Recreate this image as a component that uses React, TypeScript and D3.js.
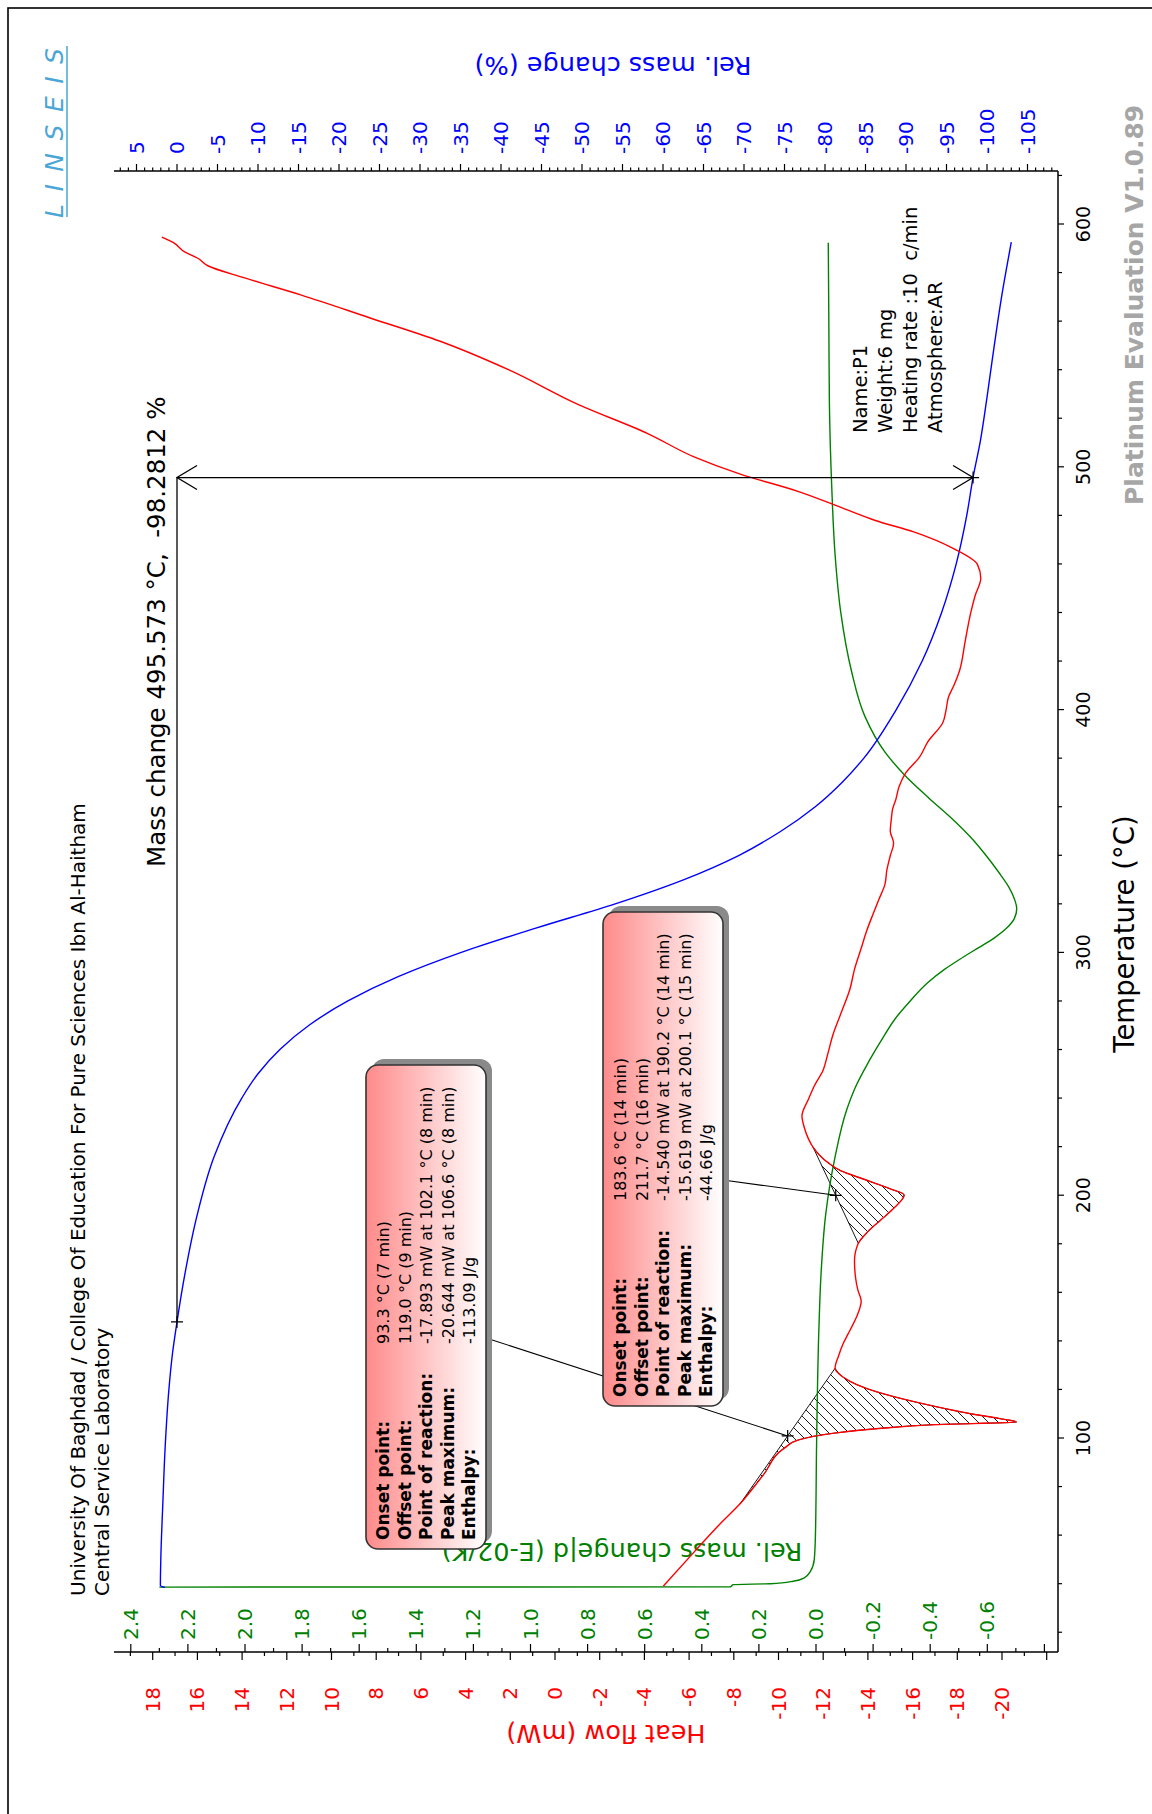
import React, { useEffect, useRef } from "react";
import * as d3 from "d3";

const WIDTH = 1152;
const HEIGHT = 1814;
const FONT = "'DejaVu Sans', Verdana, sans-serif";

// Axis tick labels
const tempTicks = [100, 200, 300, 400, 500, 600];
const heatFlowTicks = [18, 16, 14, 12, 10, 8, 6, 4, 2, 0, -2, -4, -6, -8, -10, -12, -14, -16, -18, -20];
const dtgTicks = [2.4, 2.2, 2.0, 1.8, 1.6, 1.4, 1.2, 1.0, 0.8, 0.6, 0.4, 0.2, 0.0, -0.2, -0.4, -0.6];
const massTicks = [5, 0, -5, -10, -15, -20, -25, -30, -35, -40, -45, -50, -55, -60, -65, -70, -75, -80, -85, -90, -95, -100, -105];

// DTA heat flow (mW) versus temperature (°C)
const dtaTemp = [39.0, 53.0, 64.4, 73.0, 84.9, 95.8, 99.2, 102.0, 104.0, 105.5, 106.6, 108.0, 110.0, 113.0, 116.0, 119.0, 122.0, 125.0, 128.7, 133.9, 139.0, 144.4, 150.0, 156.4, 161.0, 165.9, 173.0, 180.2, 185.0, 190.0, 195.0, 200.1, 202.6, 205.0, 207.3, 210.0, 213.5, 219.7, 223.0, 228.0, 232.6, 239.7, 245.0, 251.6, 258.0, 265.9, 275.0, 285.0, 293.0, 301.7, 309.0, 316.0, 322.0, 327.9, 334.0, 339.8, 345.0, 350.0, 355.0, 358.8, 363.0, 368.4, 374.0, 380.3, 387.0, 394.6, 400.0, 405.0, 410.0, 416.0, 428.0, 439.8, 447.0, 454.1, 459.8, 466.0, 473.2, 478.0, 482.7, 489.8, 497.0, 504.1, 513.7, 525.6, 539.9, 551.8, 561.3, 570.8, 578.0, 582.7, 586.0, 588.4, 592.3, 594.6];
const dtaHeatFlow = [-4.85, -6.22, -7.36, -8.29, -9.33, -10.26, -10.9, -12.5, -14.6, -17.0, -20.644, -19.9, -18.6, -17.0, -15.6, -14.4, -13.5, -12.9, -12.53, -12.69, -12.9, -13.2, -13.5, -13.7, -13.55, -13.45, -13.4, -13.57, -14.0, -14.6, -15.2, -15.619, -15.0, -14.3, -13.6, -12.8, -12.2, -11.55, -11.35, -11.15, -11.05, -11.35, -11.6, -12.0, -12.2, -12.43, -12.8, -13.2, -13.4, -13.7, -13.95, -14.24, -14.5, -14.76, -14.85, -15.0, -15.15, -15.0, -15.05, -15.1, -15.25, -15.4, -15.7, -16.3, -16.7, -17.35, -17.5, -17.6, -17.85, -18.1, -18.35, -18.6, -18.8, -19.05, -18.9, -17.9, -16.05, -14.3, -12.95, -10.9, -8.29, -6.22, -4.15, -1.05, 2.06, 5.17, 8.27, 11.38, 13.96, 15.51, 16.0, 16.55, 17.07, 17.59];

// TG relative mass change (%) versus temperature (°C)
const tgTemp = [38.5, 39.3, 50, 73, 97, 120, 135, 147.8, 168, 192, 216, 240, 250, 260, 270, 280, 290, 300, 310, 320, 330, 340, 350, 360, 370, 380, 400, 420, 440, 460, 480, 495.6, 511, 531, 550, 570, 592.5];
const tgMass = [1.5, 2.05, 2.0, 1.75, 1.45, 1.0, 0.55, 0.0, -1.0, -2.5, -4.6, -8.0, -10.0, -12.7, -16.3, -21.1, -27.3, -35.1, -44.3, -54.1, -62.6, -69.4, -74.6, -78.8, -82.1, -84.8, -88.8, -92.0, -94.4, -96.2, -97.5, -98.28, -99.2, -100.1, -100.9, -101.8, -103.0];

// DTG (E-02/K) versus temperature (°C)
const dtgTemp = [38.6, 38.7, 39.6, 40.0, 41.0, 42.5, 45.0, 50.0, 60.0, 96.8, 144.4, 168.3, 192.1, 215.9, 235.0, 245.0, 254.0, 263.0, 273.1, 280.0, 287.4, 293.0, 298.0, 302.0, 306.0, 310.0, 314.0, 318.0, 322.0, 327.0, 333.0, 340.0, 347.0, 354.1, 363.6, 373.1, 382.6, 397.0, 416.0, 439.8, 463.6, 492.2, 525.6, 558.9, 592.3];
const dtgValue = [2.3, 0.3, 0.29, 0.16, 0.08, 0.04, 0.02, 0.006, 0.002, -0.002, -0.01, -0.018, -0.034, -0.067, -0.107, -0.14, -0.18, -0.225, -0.28, -0.33, -0.39, -0.45, -0.515, -0.57, -0.625, -0.668, -0.695, -0.703, -0.695, -0.675, -0.64, -0.595, -0.545, -0.485, -0.395, -0.31, -0.241, -0.172, -0.124, -0.087, -0.067, -0.055, -0.047, -0.045, -0.043];

// Peak integration limits (°C)
const peakStartTemp = [73.0, 180.2];
const peakEndTemp = [128.7, 219.7];

// Peak evaluation results
const evalLabels = ["Onset point:", "Offset point:", "Point of reaction:", "Peak maximum:", "Enthalpy:"];
const peak1Values = ["93.3 °C (7 min)", "119.0 °C (9 min)", "-17.893 mW at 102.1 °C (8 min)", "-20.644 mW at 106.6 °C (8 min)", "-113.09 J/g"];
const peak2Values = ["183.6 °C (14 min)", "211.7 °C (16 min)", "-14.540 mW at 190.2 °C (14 min)", "-15.619 mW at 200.1 °C (15 min)", "-44.66 J/g"];

// Mass step evaluation
const massStepFromTemp = 147.8;
const massStepTemp = 495.573;
const massStepValue = -98.2812;

const sampleInfo = ["Name:P1", "Weight:6 mg", "Heating rate :10  c/min", "Atmosphere:AR"];
const titleLines = ["University Of Baghdad / College Of Education For Pure Sciences Ibn Al-Haitham", "Central Service Laboratory"];

export default function App() {
  const ref = useRef<SVGSVGElement | null>(null);

  useEffect(() => {
    const svg = d3.select(ref.current as SVGSVGElement);
    svg.selectAll("*").remove();

    const defs = svg.append("defs");
    const pat = defs
      .append("pattern")
      .attr("id", "hatch")
      .attr("patternUnits", "userSpaceOnUse")
      .attr("width", 10)
      .attr("height", 10);
    pat
      .append("path")
      .attr("d", "M0,10 L10,0 M-2,2 L2,-2 M8,12 L12,8")
      .attr("stroke", "#000")
      .attr("stroke-width", 0.9);
    const grad = defs
      .append("linearGradient")
      .attr("id", "boxFill")
      .attr("x1", 0)
      .attr("y1", 0)
      .attr("x2", 0)
      .attr("y2", 1);
    grad.append("stop").attr("offset", "0%").attr("stop-color", "#ff8a8a");
    grad.append("stop").attr("offset", "100%").attr("stop-color", "#ffffff");

    svg.append("rect").attr("width", WIDTH).attr("height", HEIGHT).attr("fill", "#fff");
    svg
      .append("rect")
      .attr("x", 8)
      .attr("y", 8)
      .attr("width", WIDTH + 40)
      .attr("height", HEIGHT + 40)
      .attr("fill", "none")
      .attr("stroke", "#000")
      .attr("stroke-width", 1.6);

    // Chart is laid out in its own frame (temperature along u, values along v) and turned a quarter turn.
    const g = svg.append("g").attr("transform", `translate(0,${HEIGHT}) rotate(-90)`);

    const tScale = d3.scaleLinear().domain([100, 600]).range([376, 1590]);
    const hfScale = d3.scaleLinear().domain([18, -20]).range([152.7, 1002]);
    const dtgScale = d3.scaleLinear().domain([2.4, -0.6]).range([130.8, 987.3]);
    const massScale = d3.scaleLinear().domain([0, -100]).range([177, 987]);
    const U_AX = 162;
    const U_TOP = 1643;
    const V_L = 114;
    const V_R = 1058;

    const axes = g.append("g").attr("stroke", "#000").attr("stroke-width", 1.5);
    axes.append("line").attr("x1", U_AX).attr("x2", U_TOP).attr("y1", V_R).attr("y2", V_R);
    axes.append("line").attr("x1", U_AX).attr("x2", U_AX).attr("y1", V_L).attr("y2", V_R);
    axes.append("line").attr("x1", U_TOP).attr("x2", U_TOP).attr("y1", V_L).attr("y2", V_R);

    const tick = g.append("g").attr("stroke", "#000").attr("stroke-width", 1.2);
    // temperature ticks
    d3.range(20, 621, 20).forEach((t) => {
      const u = tScale(t);
      if (u < U_AX || u > U_TOP) return;
      const len = t % 100 === 0 ? 6 : 4;
      tick.append("line").attr("x1", u).attr("x2", u).attr("y1", V_R).attr("y2", V_R + len);
    });
    // heat flow ticks (outside)
    d3.range(19, -23, -1).forEach((h) => {
      const v = hfScale(h);
      if (v < V_L || v > V_R) return;
      const len = h % 2 === 0 ? 8 : 4;
      tick.append("line").attr("x1", U_AX).attr("x2", U_AX - len).attr("y1", v).attr("y2", v);
    });
    // DTG ticks (inside)
    d3.range(25, -9, -1).forEach((i) => {
      const v = dtgScale(i / 10);
      if (v < V_L || v > V_R) return;
      const len = i % 2 === 0 ? 8 : 4;
      tick.append("line").attr("x1", U_AX).attr("x2", U_AX + len).attr("y1", v).attr("y2", v);
    });
    // mass ticks
    d3.range(7, -110, -1).forEach((m) => {
      const v = massScale(m);
      if (v < V_L || v > V_R) return;
      const len = m % 5 === 0 ? 7 : 3.5;
      tick.append("line").attr("x1", U_TOP).attr("x2", U_TOP + len).attr("y1", v).attr("y2", v);
    });

    const labels = g.append("g").attr("font-family", FONT).attr("font-size", 20);
    heatFlowTicks.forEach((h) => {
      labels
        .append("text")
        .attr("x", 127)
        .attr("y", hfScale(h))
        .attr("dy", "0.35em")
        .attr("text-anchor", "end")
        .attr("fill", "#ff0000")
        .text(String(h));
    });
    dtgTicks.forEach((d) => {
      labels
        .append("text")
        .attr("x", 174)
        .attr("y", dtgScale(d))
        .attr("dy", "0.35em")
        .attr("text-anchor", "start")
        .attr("fill", "#008000")
        .text(d.toFixed(1));
    });
    massTicks.forEach((m) => {
      labels
        .append("text")
        .attr("x", 1660)
        .attr("y", massScale(m))
        .attr("dy", "0.35em")
        .attr("text-anchor", "start")
        .attr("fill", "#0000ff")
        .text(String(m));
    });
    tempTicks.forEach((t) => {
      labels
        .append("text")
        .attr("x", tScale(t))
        .attr("y", 1090)
        .attr("text-anchor", "middle")
        .attr("font-size", 19)
        .attr("fill", "#000")
        .text(String(t));
    });

    // Axis titles
    const titles = g.append("g").attr("font-family", FONT).attr("font-size", 25.5);
    titles
      .append("text")
      .attr("transform", `translate(89,606) rotate(-90)`)
      .attr("text-anchor", "middle")
      .attr("fill", "#ff0000")
      .text("Heat flow (mW)");
    titles
      .append("text")
      .attr("transform", `translate(1757,613) rotate(-90)`)
      .attr("text-anchor", "middle")
      .attr("fill", "#0000ff")
      .text("Rel. mass change (%)");
    titles
      .append("text")
      .attr("transform", `translate(271,622) rotate(-90)`)
      .attr("text-anchor", "middle")
      .attr("fill", "#008000")
      .text("Rel. mass change|d (E-02/K)");
    titles
      .append("text")
      .attr("x", 880)
      .attr("y", 1134)
      .attr("text-anchor", "middle")
      .attr("font-size", 27.5)
      .attr("fill", "#000")
      .text("Temperature (°C)");

    // Curves
    const zip = (a: number[], b: number[]) => a.map((x, i) => [x, b[i]] as [number, number]);
    const dta = zip(dtaTemp, dtaHeatFlow);
    const tg = zip(tgTemp, tgMass);
    const dtg = zip(dtgTemp, dtgValue);

    const dtaLine = d3
      .line<[number, number]>()
      .x((d) => tScale(d[0]))
      .y((d) => hfScale(d[1]))
      .curve(d3.curveMonotoneX);
    const tgLine = d3
      .line<[number, number]>()
      .x((d) => tScale(d[0]))
      .y((d) => massScale(d[1]))
      .curve(d3.curveMonotoneX);
    const dtgLine = d3
      .line<[number, number]>()
      .x((d) => tScale(d[0]))
      .y((d) => dtgScale(d[1]))
      .curve(d3.curveMonotoneX);

    // Hatched peak areas between curve and straight baseline
    peakStartTemp.forEach((t0, i) => {
      const t1 = peakEndTemp[i];
      const seg = dta.filter((d) => d[0] >= t0 && d[0] <= t1);
      g.append("path")
        .attr("d", (dtaLine(seg) || "") + "Z")
        .attr("fill", "url(#hatch)")
        .attr("stroke", "#000")
        .attr("stroke-width", 0.9);
    });

    g.append("path").attr("d", dtgLine(dtg)).attr("fill", "none").attr("stroke", "#008000").attr("stroke-width", 1.4);
    g.append("path").attr("d", tgLine(tg)).attr("fill", "none").attr("stroke", "#0000ff").attr("stroke-width", 1.4);
    g.append("path").attr("d", dtaLine(dta)).attr("fill", "none").attr("stroke", "#ff0000").attr("stroke-width", 1.4);

    const cross = (u: number, v: number) => {
      g.append("path")
        .attr("d", `M${u - 6},${v} L${u + 6},${v} M${u},${v - 6} L${u},${v + 6}`)
        .attr("stroke", "#000")
        .attr("stroke-width", 1.2);
    };

    // Peak evaluation boxes with leader lines
    const boxLayout = [
      { u0: 265, u1: 749, v0: 366, v1: 486, leadU: 476, values: peak1Values },
      { u0: 408, u1: 902, v0: 603, v1: 723, leadU: 634, values: peak2Values },
    ];
    const markers = peakStartTemp.map((t0, i) => {
      const t1 = peakEndTemp[i];
      const h0 = dtaHeatFlow[dtaTemp.indexOf(t0)];
      const h1 = dtaHeatFlow[dtaTemp.indexOf(t1)];
      return [tScale((t0 + t1) / 2), hfScale((h0 + h1) / 2)];
    });
    boxLayout.forEach((b, i) => {
      g.append("line")
        .attr("x1", b.leadU)
        .attr("y1", b.v1)
        .attr("x2", markers[i][0])
        .attr("y2", markers[i][1])
        .attr("stroke", "#000")
        .attr("stroke-width", 1.1);
      cross(markers[i][0], markers[i][1]);
    });
    boxLayout.forEach((b) => {
      g.append("rect")
        .attr("x", b.u0 + 6)
        .attr("y", b.v0 + 6)
        .attr("width", b.u1 - b.u0)
        .attr("height", b.v1 - b.v0)
        .attr("rx", 12)
        .attr("fill", "#8a8a8a");
      g.append("rect")
        .attr("x", b.u0)
        .attr("y", b.v0)
        .attr("width", b.u1 - b.u0)
        .attr("height", b.v1 - b.v0)
        .attr("rx", 12)
        .attr("fill", "url(#boxFill)")
        .attr("stroke", "#333")
        .attr("stroke-width", 1.6);
      evalLabels.forEach((lab, j) => {
        g.append("text")
          .attr("x", b.u0 + 9)
          .attr("y", b.v0 + 23 + j * 21.5)
          .attr("font-family", FONT)
          .attr("font-size", 17)
          .attr("font-weight", "bold")
          .attr("fill", "#000")
          .text(lab);
        g.append("text")
          .attr("x", b.u0 + 205)
          .attr("y", b.v0 + 23 + j * 21.5)
          .attr("font-family", FONT)
          .attr("font-size", 16)
          .attr("fill", "#000")
          .text(b.values[j]);
      });
    });

    // Mass step annotation
    const uFrom = tScale(massStepFromTemp);
    const uStep = tScale(massStepTemp);
    const vZero = massScale(0);
    const vStep = massScale(massStepValue);
    const ann = g.append("g").attr("stroke", "#000").attr("stroke-width", 1.3).attr("fill", "none");
    ann.append("line").attr("x1", uFrom).attr("x2", uStep).attr("y1", vZero).attr("y2", vZero);
    ann.append("line").attr("x1", uStep).attr("x2", uStep).attr("y1", vZero).attr("y2", vStep);
    ann.append("path").attr("d", `M${uStep - 12},${vZero + 20} L${uStep},${vZero} L${uStep + 12},${vZero + 20}`);
    ann.append("path").attr("d", `M${uStep - 12},${vStep - 20} L${uStep},${vStep} L${uStep + 12},${vStep - 20}`);
    cross(uFrom, vZero);
    cross(uStep, vStep);
    g.append("text")
      .attr("x", 947)
      .attr("y", 165)
      .attr("font-family", FONT)
      .attr("font-size", 24.5)
      .attr("fill", "#000")
      .style("white-space", "pre")
      .text(`Mass change ${massStepTemp} °C,  ${massStepValue} %`);

    // Header and sample information
    titleLines.forEach((s, i) => {
      g.append("text")
        .attr("x", 218)
        .attr("y", 85 + i * 24)
        .attr("font-family", FONT)
        .attr("font-size", 20)
        .attr("fill", "#000")
        .text(s);
    });
    sampleInfo.forEach((s, i) => {
      g.append("text")
        .attr("x", 1381)
        .attr("y", 867 + i * 25)
        .attr("font-family", FONT)
        .attr("font-size", 19.5)
        .attr("fill", "#000")
        .style("white-space", "pre")
        .text(s);
    });
    g.append("text")
      .attr("x", 1309)
      .attr("y", 1143)
      .attr("font-family", FONT)
      .attr("font-size", 25)
      .attr("font-weight", "bold")
      .attr("fill", "#a6a6a6")
      .text("Platinum Evaluation V1.0.89");

    // Logo
    g.append("text")
      .attr("x", 1596)
      .attr("y", 63)
      .attr("font-family", FONT)
      .attr("font-size", 25)
      .attr("font-style", "italic")
      .attr("fill", "#4aa6d6")
      .attr("textLength", 170)
      .attr("lengthAdjust", "spacing")
      .text("LINSEIS");
    g.append("line")
      .attr("x1", 1597)
      .attr("x2", 1768)
      .attr("y1", 67)
      .attr("y2", 67)
      .attr("stroke", "#4aa6d6")
      .attr("stroke-width", 1.5);
  }, []);

  return (
    <svg
      ref={ref}
      width={WIDTH}
      height={HEIGHT}
      style={{ position: "absolute", left: 0, top: 0, display: "block", background: "#fff" }}
    />
  );
}
